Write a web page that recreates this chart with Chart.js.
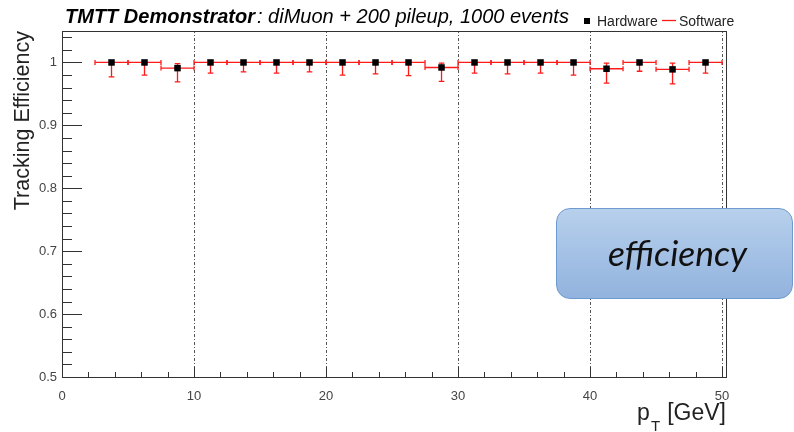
<!DOCTYPE html>
<html lang="en">
<head>
<meta charset="UTF-8">
<title>TMTT Demonstrator tracking efficiency</title>
<script src="https://cdn.jsdelivr.net/npm/chart.js"></script>
<style>
    body {
        margin: 0;
        padding: 0;
        background: #fff;
    }
    .wrap {
        position: relative;
        width: 794px;
        height: 432px;
        overflow: hidden;
    }
    canvas {
        position: absolute;
        left: 0;
        top: 0;
    }
    .tag {
        position: absolute;
        left: 556px;
        top: 208px;
        width: 237px;
        height: 91px;
        box-sizing: border-box;
        border: 1.5px solid #6d9ad0;
        border-radius: 14px;
        background: linear-gradient(#b7d0ec, #92b3de);
        display: flex;
        align-items: center;
        justify-content: center;
        font-family: Lato, "Open Sans", sans-serif;
        font-style: italic;
        font-size: 35.5px;
        color: #111;
        padding-left: 6px;
        padding-bottom: 2px;
    }
</style>
</head>
<body>
<div class="wrap">
    <canvas id="chart" width="794" height="432"></canvas>
    <div class="tag">efficiency</div>
</div>

<script>
    // pT bins, 2.5 GeV wide
    const binCenters = [3.75, 6.25, 8.75, 11.25, 13.75, 16.25, 18.75, 21.25, 23.75, 26.25,
                        28.75, 31.25, 33.75, 36.25, 38.75, 41.25, 43.75, 46.25, 48.75];
    const binWidth = 2.5;

    const hardwareEff = [1, 1, 0.991, 1, 1, 1, 1, 1, 1, 1,
                         0.992, 1, 1, 1, 1, 0.990, 1, 0.989, 1];
    const softwareEff = [1, 1, 0.991, 1, 1, 1, 1, 1, 1, 1,
                         0.992, 1, 1, 1, 1, 0.990, 1, 0.989, 1];

    // asymmetric (binomial) errors
    const errLow  = [0.023, 0.020, 0.022, 0.017, 0.015, 0.017, 0.015, 0.020, 0.018, 0.021,
                     0.022, 0.017, 0.018, 0.017, 0.020, 0.023, 0.014, 0.023, 0.017];
    const errHigh = [0, 0, 0.007, 0, 0, 0, 0, 0, 0, 0,
                     0.007, 0, 0, 0, 0, 0.009, 0, 0.010, 0];

    const xMajorTicks = [0, 10, 20, 30, 40, 50];
    const yMajorTicks = [0.5, 0.6, 0.7, 0.8, 0.9, 1];
    const xMinorStep = 2;
    const yMinorStep = 0.02;

    const FONT = '"Liberation Sans", Arial, sans-serif';
    const RED = '#ff1a1a';

    const px = v => Math.round(v) + 0.5;

    // ROOT-like frame: inner ticks, dashed grid on x majors, error bars, labels
    const rootStyle = {
        id: 'rootStyle',
        beforeDatasetsDraw(chart) {
            const {ctx, chartArea: a, scales: {x, y}} = chart;

            // dashed vertical grid
            ctx.save();
            ctx.strokeStyle = '#555';
            ctx.lineWidth = 1;
            ctx.setLineDash([3, 2, 1, 2]);
            xMajorTicks.forEach(v => {
                if (v === 0) return;
                const xp = px(x.getPixelForValue(v));
                ctx.beginPath();
                ctx.moveTo(xp, a.bottom);
                ctx.lineTo(xp, a.top);
                ctx.stroke();
            });
            ctx.restore();

            // software: horizontal bin bars + vertical error bars
            ctx.save();
            ctx.strokeStyle = RED;
            ctx.lineWidth = 1.3;
            binCenters.forEach((c, i) => {
                const v = softwareEff[i];
                const x0 = x.getPixelForValue(c - binWidth / 2);
                const x1 = x.getPixelForValue(c + binWidth / 2);
                const xc = x.getPixelForValue(c);
                const yc = y.getPixelForValue(v);
                const yHi = y.getPixelForValue(v + errHigh[i]);
                const yLo = y.getPixelForValue(v - errLow[i]);
                ctx.beginPath();
                ctx.moveTo(x0, yc);
                ctx.lineTo(x1, yc);
                ctx.moveTo(x0, yc - 2.5);
                ctx.lineTo(x0, yc + 2.5);
                ctx.moveTo(x1, yc - 2.5);
                ctx.lineTo(x1, yc + 2.5);
                ctx.moveTo(xc, yHi);
                ctx.lineTo(xc, yLo);
                ctx.moveTo(xc - 2.8, yLo);
                ctx.lineTo(xc + 2.8, yLo);
                if (errHigh[i] > 0) {
                    ctx.moveTo(xc - 2.8, yHi);
                    ctx.lineTo(xc + 2.8, yHi);
                }
                ctx.stroke();
            });
            ctx.restore();
        },
        afterDraw(chart) {
            const {ctx, chartArea: a, scales: {x, y}} = chart;
            ctx.save();

            // frame
            ctx.strokeStyle = '#333';
            ctx.lineWidth = 1;
            ctx.strokeRect(px(a.left), px(a.top), Math.round(a.right - a.left), Math.round(a.bottom - a.top));

            // y ticks (inside frame)
            ctx.beginPath();
            for (let v = 0.5; v <= y.max + 1e-9; v += yMinorStep) {
                const isMajor = yMajorTicks.some(t => Math.abs(t - v) < 1e-6);
                const yp = px(y.getPixelForValue(v));
                ctx.moveTo(a.left, yp);
                ctx.lineTo(a.left + (isMajor ? 20 : 10), yp);
            }
            // x ticks
            for (let v = 0; v <= x.max + 1e-9; v += xMinorStep) {
                const xp = px(x.getPixelForValue(v));
                ctx.moveTo(xp, a.bottom);
                ctx.lineTo(xp, a.bottom - (xMajorTicks.includes(v) ? 10 : 5));
            }
            ctx.stroke();

            // title
            ctx.fillStyle = '#000';
            ctx.textBaseline = 'alphabetic';
            ctx.textAlign = 'left';
            ctx.font = 'italic bold 20px ' + FONT;
            const head = 'TMTT Demonstrator';
            ctx.fillText(head, 65, 22.5);
            const hw = ctx.measureText(head).width;
            ctx.font = 'italic 20px ' + FONT;
            ctx.fillText(': diMuon + 200 pileup, 1000 events', 65 + hw + 2, 22.5);

            // legend
            ctx.fillRect(584, 18, 6, 6);
            ctx.font = '14px ' + FONT;
            ctx.fillStyle = '#222';
            ctx.fillText('Hardware', 597, 25.5);
            ctx.strokeStyle = RED;
            ctx.lineWidth = 1.3;
            ctx.beginPath();
            ctx.moveTo(662, 20.5);
            ctx.lineTo(676, 20.5);
            ctx.stroke();
            ctx.fillText('Software', 679, 25.5);

            // axis titles
            ctx.fillStyle = '#222';
            ctx.font = '23px ' + FONT;
            ctx.textAlign = 'right';
            ctx.fillText('[GeV]', 726, 420);
            ctx.textAlign = 'left';
            ctx.fillText('p', 637, 420);
            ctx.font = '15px ' + FONT;
            ctx.fillText('T', 651, 431);

            ctx.translate(29, 31);
            ctx.rotate(-Math.PI / 2);
            ctx.textAlign = 'right';
            ctx.font = '21.5px ' + FONT;
            ctx.fillText('Tracking Efficiency', 0, 0);

            ctx.restore();
        }
    };

    const ctx = document.getElementById('chart').getContext('2d');
    new Chart(ctx, {
        type: 'scatter',
        data: {
            datasets: [{
                label: 'Hardware',
                data: binCenters.map((c, i) => ({x: c, y: hardwareEff[i]})),
                pointStyle: 'rect',
                pointRadius: 4.6,
                backgroundColor: '#000',
                borderColor: '#000',
                borderWidth: 0
            }, {
                label: 'Software',
                data: binCenters.map((c, i) => ({x: c, y: softwareEff[i]})),
                pointRadius: 0,
                borderColor: RED,
                backgroundColor: RED
            }]
        },
        options: {
            responsive: false,
            animation: false,
            layout: {padding: {left: 0, right: 68, top: 31, bottom: 0}},
            plugins: {
                legend: {display: false},
                tooltip: {enabled: false}
            },
            scales: {
                x: {
                    type: 'linear',
                    min: 0,
                    max: 50.3,
                    afterFit: s => { s.height = 55; },
                    afterBuildTicks: s => { s.ticks = xMajorTicks.map(v => ({value: v})); },
                    grid: {display: false, drawTicks: false},
                    border: {display: false},
                    ticks: {
                        padding: 12,
                        maxRotation: 0,
                        autoSkip: false,
                        color: '#444',
                        font: {family: FONT, size: 13}
                    }
                },
                y: {
                    type: 'linear',
                    min: 0.5,
                    max: 1.05,
                    afterFit: s => { s.width = 62; },
                    afterBuildTicks: s => { s.ticks = yMajorTicks.map(v => ({value: v})); },
                    grid: {display: false, drawTicks: false},
                    border: {display: false},
                    ticks: {
                        padding: 5,
                        autoSkip: false,
                        color: '#444',
                        font: {family: FONT, size: 13},
                        callback: v => (v === 1 ? '1' : v.toFixed(1))
                    }
                }
            }
        },
        plugins: [rootStyle]
    });
</script>
</body>
</html>
